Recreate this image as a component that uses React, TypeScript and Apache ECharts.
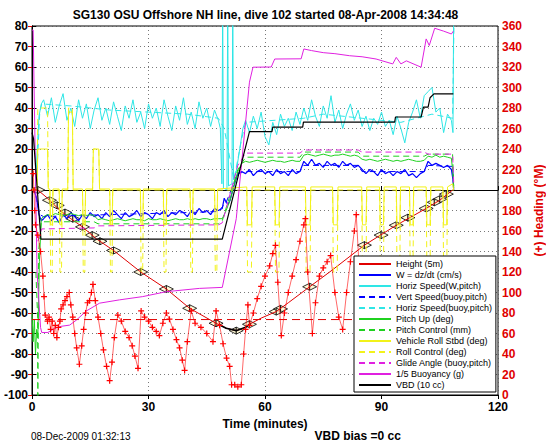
import React, { useEffect, useRef } from "react";
import * as echarts from "echarts";

const FONT = '"Liberation Sans", Arial, Helvetica, sans-serif';
const TITLE = "SG130 OSU Offshore NH line, dive 102 started 08-Apr-2008 14:34:48";
const X_NAME = "Time (minutes)";
const Y2_NAME = "(+) Heading (°M)";
const STAMP = "08-Dec-2009 01:32:13";
const VBD_NOTE = "VBD bias =0 cc";

const NAMES = [
  "Height (5m)",
  "W = dz/dt (cm/s)",
  "Horiz Speed(W,pitch)",
  "Vert Speed(buoy,pitch)",
  "Horiz Speed(buoy,pitch)",
  "Pitch Up (deg)",
  "Pitch Control (mm)",
  "Vehicle Roll Stbd (deg)",
  "Roll Control (deg)",
  "Glide Angle (buoy,pitch)",
  "1/5 Buoyancy (g)",
  "VBD (10 cc)",
];

// shared time grids (minutes)
const DESC_T = [3,4,5,6,7,8,9,10,11,12,13,14,15,16,17,18,19,20,21,22,23,24,25,26,27,28,29,30,31,32,33,34,35,36,37,38,39,40,41,42,43,44,45,46,47,48];
const ASC_T = [55,56,57,58,59,60,61,62,63,64,65,66,67,68,69,70,71,72,73,74,75,76,77,78,79,80,81,82,83,84,85,86,87,88,89,90,91,92,93,94,95,96,97,98,99,100,101,102,103,104,105,106,107,108];

// Height (5m)
const HEIGHT_T = [0.5, 1.5, 4, 7.1, 10, 13, 16.5, 21, 28, 34.6, 40.6, 47.4, 50, 52.6, 55, 56, 59, 62.9, 66, 71.5, 77, 85.6, 93.8, 101.5, 105, 108.3];
const HEIGHT_V = [0.5, 0, -4, -9.8, -14, -18, -23.7, -29.5, -40, -48.3, -57.7, -65, -67.4, -68.6, -67, -65.5, -62.5, -59.3, -55, -47.2, -39.5, -26.9, -17.2, -9, -5, 0];
// markers on the height trace
const MARK_T = [1.5, 4.5, 6.5, 8.5, 10.5, 13, 15.5, 17.5, 21, 28, 34.6, 40.6, 47.4, 52.6, 56, 62.9, 64, 71.5, 85.6, 89.9, 93.8, 96.8, 101.5, 103.6, 105, 106.7];
const MARK_V = [0, -5, -7.5, -11, -14, -18, -22, -25, -29.5, -40, -48.3, -57.7, -65, -68.6, -65.5, -59.3, -58, -47.2, -26.9, -22, -17.2, -13.5, -9, -6, -4.5, -2];
// apogee segment
const APOGEE_T = [48.5, 50, 52.6, 55, 56.3];
const APOGEE_V = [-66, -67.4, -68.6, -67, -65.2];
// target depth line
const TARGET_T = [0, 120];
const TARGET_V = [-63.2, -63.2];

// W = dz/dt
const W_EARLY_T = [0.5, 1.2, 1.8, 2.4];
const W_EARLY_V = [0, -4, -12, -15];
const W_DESC = [-14,-12,-15,-13,-16,-12,-14,-11,-13,-15,-12,-14,-11,-13,-12,-14,-11,-13,-10,-12,-14,-11,-13,-12,-10,-13,-11,-12,-14,-11,-12,-10,-13,-11,-12,-10,-11,-13,-10,-12,-9,-11,-10,-12,-9,-10];
const W_MID_T = [49, 49.5, 50, 50.5, 51, 52, 53, 54];
const W_MID_V = [-9, -4, -6, -7, -5, 2, 8, 9];
const W_ASC = [8,10,7,9,10,8,9,7,10,8,9,7,10,8,9,14,12,15,12,13,11,14,12,13,11,14,12,13,11,12,10,8,10,9,7,10,8,9,7,9,8,10,7,8,6,8,9,14,12,13,12,11,12,10];
const W_END_T = [108.4, 108.6];
const W_END_V = [5, 0];

// Horiz speed (W, pitch)
const HS_EARLY_T = [0.9, 1.3, 1.8, 2.4];
const HS_EARLY_V = [2, 18, 36, 42];
const HS_DESC = [44,36,45,33,41,47,34,40,31,44,35,42,30,39,45,34,40,32,43,36,29,41,35,44,33,38,30,42,35,40,31,44,36,29,41,34,45,32,38,30,43,35,40,31,39,34];
const HS_MID_T = [48.5, 48.9, 49.1, 49.3, 50.2, 50.4, 50.6, 51.5, 51.7, 51.9, 52.6, 53.5, 54.3];
const HS_MID_V = [30, 3, 95, 1, 0, 95, 2, 3, 95, 5, 9, 20, 30];
const HS_ASC = [34,28,36,30,38,26,22,33,27,37,31,35,29,38,32,40,34,44,36,31,41,35,46,33,39,30,37,42,34,39,31,36,29,35,32,38,31,34,27,36,30,23,33,38,44,35,46,48,50,38,40,28,37,34];
const HS_END_T = [108.4, 108.6];
const HS_END_V = [28, 95];

// Vert speed (buoy, pitch)
const VSB_T = [1, 2, 3, 10, 20, 30, 40, 48, 50, 53, 55, 69, 70, 84, 85, 101, 102, 108.3, 108.6];
const VSB_V = [-3, -12, -13, -12.5, -12, -11.5, -11, -10.5, -6, 8, 9, 9, 12, 12, 9, 9, 12, 11.5, 0];

// Horiz speed (buoy, pitch)
const HSB_T = [1.2, 2, 2.5, 10, 20, 30, 40, 48, 49.5, 52, 54, 55, 70, 75, 85, 95, 103, 108.3, 108.7];
const HSB_V = [5, 38, 42, 41, 39, 38, 37, 35, 30, 5, 25, 33, 35, 37, 35, 33, 37, 35, 85];

// Pitch up
const PU_EARLY_T = [0, 0.3, 0.6, 0.9, 1.2, 1.5, 1.9, 2.4];
const PU_EARLY_V = [-60, -74, -63, -80, -68, -72, -35, -14];
const PU_DESC = [-13,-12,-12.5,-11.5,-12,-12.5,-12,-11.5,-12,-12.5,-12,-12.5,-12,-12.5,-14.5,-14,-14.5,-15,-14.5,-14,-14.5,-15,-14.5,-14,-14.5,-14.5,-15,-14,-14.5,-14.5,-14,-14.5,-15,-14.5,-14,-14.5,-14.5,-14,-14.5,-14,-14.5,-14,-14,-14.5,-14,-14];
const PU_MID_T = [49, 50, 51, 52, 53, 54];
const PU_MID_V = [-14, -10, -5, 2, 9, 13];
const PU_ASC = [14,13.5,14,14.5,14,13.5,14,14.5,14,14,13.5,14,14.5,14,14,17,17.5,17,16.5,17,17.5,17,16.5,17,17,17.5,17,16.5,17,16.5,15,14.5,15,14.5,14,14.5,15,14.5,14,14.5,14,14.5,15,14.5,14,14,14.5,16.5,16,17,16,16.5,16,15.5];
const PU_END_T = [108.4, 108.6];
const PU_END_V = [8, 1];

// Pitch control
const PC_T = [1.0, 1.45, 1.5, 1.65, 1.7, 2.4, 16, 17, 48, 49, 53, 55, 69, 70, 84, 85, 101, 102, 108.3, 108.6];
const PC_V = [-40, -62, -110, -110, -30, -15.5, -15.5, -16.5, -16.5, -15, 10, 16, 16, 18.5, 18.5, 16.5, 16.5, 17.5, 17.5, 2];

// Roll (vehicle roll solid, roll control dashed)
const ROLL_T = [
  0, 1.3, 1.5, 4.0, 4.2,
  4.6, 4.8, 5.2, 5.4,
  7.0, 7.2, 7.6, 7.8,
  9.2, 9.4, 10.4, 10.6,
  13.0, 13.2, 13.6, 13.8,
  15.6, 15.8, 17.2, 17.4,
  20.0, 20.2, 20.6, 20.8,
  27.9, 28.1, 28.5, 28.7,
  33.8, 34.0, 34.5, 34.7,
  40.7, 40.9, 41.3, 41.5,
  47.0, 47.2, 47.6, 47.8,
  55.3, 55.5, 56.5, 56.7,
  62.5, 62.7, 63.6, 63.8,
  70.4, 70.6, 71.6, 71.8,
  77.4, 77.6, 78.6, 78.8,
  84.9, 85.1, 86.0, 86.2,
  89.5, 89.7, 90.5, 90.7,
  93.8, 94.0, 94.7, 94.9,
  97.2, 97.4, 98.1, 98.3,
  101.5, 101.7, 102.5, 102.7,
  105.8, 106.0, 106.8, 107.0,
  108.3, 108.6,
];
const VROLL_V = [
  0.5, 0.5, 20, 20, 0.5,
  0.5, -17, -17, 0.5,
  0.5, -17, -17, 0.5,
  0.5, 38, 38, 0.5,
  0.5, -17, -17, 0.5,
  0.5, 20, 20, 0.5,
  0.5, -17, -17, 0.5,
  0.5, -17, -17, 0.5,
  0.5, -17, -17, 0.5,
  0.5, -17, -17, 0.5,
  0.5, -17, -17, 0.5,
  1.5, -17, -17, 1.5,
  1.5, -17, -17, 1.5,
  1.5, -17, -17, 1.5,
  1.5, -17, -17, 1.5,
  1.5, -17, -17, 1.5,
  1.5, -17, -17, 1.5,
  1.5, -17, -17, 1.5,
  1.5, -17, -17, 1.5,
  1.5, -17, -17, 1.5,
  1.5, -17, -17, 1.5,
  3, 0,
];
const RCTRL_V = [
  0, 0, 40, 40, 0,
  0, -40, -40, 0,
  0, -40, -40, 0,
  0, 40, 40, 0,
  0, -40, -40, 0,
  0, 20, 20, 0,
  0, -40, -40, 0,
  0, -40, -40, 0,
  0, -40, -40, 0,
  0, -40, -40, 0,
  0, -40, -40, 0,
  0, -40, -40, 0,
  0, -40, -40, 0,
  0, -40, -40, 0,
  0, -40, -40, 0,
  0, -40, -40, 0,
  0, -40, -40, 0,
  0, -40, -40, 0,
  0, -40, -40, 0,
  0, -40, -40, 0,
  0, -40, -40, 0,
  0, 0,
];

// Glide angle
const GA_T = [1.5, 2.5, 16, 17, 48, 49, 53, 55, 69, 70, 84, 85, 101, 102, 108.3, 108.6];
const GA_V = [-25, -19, -18.5, -17.5, -17, -16, 12, 18, 18, 19.5, 19.5, 18.5, 18.5, 17.5, 17.5, 3];

// 1/5 Buoyancy
const BUOY_T = [0, 0.3, 0.8, 1.3, 2.2, 2.5, 4.1, 5.8, 7.5, 9.7, 11.4, 14, 17.4, 22.5, 28.5, 34.6, 43.1, 49, 52.6, 56, 56.9, 61.6, 62.5, 69.3, 70, 72, 75, 78, 81.8, 85, 88.6, 92.9, 93.8, 95, 96.4, 100.2, 101.5, 102.3, 103.7, 106, 108, 108.5];
const BUOY_V = [78, 78, 20, -40, -67, -69.5, -69.5, -67.5, -66.5, -65.9, -63.5, -59, -55.2, -53.6, -52, -49.6, -48, -47.5, -14, 52.6, 59.9, 60, 63.9, 64, 68.8, 68, 67, 66.5, 65.5, 65, 63.9, 61.5, 64.7, 61.5, 63, 59.9, 73.7, 70.5, 78.9, 77.5, 76.1, 77.5];

// VBD (10 cc)
const VBD_T = [0, 0.4, 2.3, 49, 56, 61.8, 62, 69.7, 69.9, 93.4, 93.6, 100.2, 100.8, 102, 102.5, 103.5, 108.5];
const VBD_V = [28, 25, -24, -24, 28.5, 28.5, 30.7, 30.7, 33.1, 33.1, 35.6, 35.6, 40.4, 40.4, 45, 46.9, 46.9];

// Heading (deg magnetic) on the right axis
const HEADING_T = [0.3,0.5,0.7,0.9,1.5,2.2,2.8,3.1,3.4, 4.0,4.4,4.8,5.2,5.6,6.0,6.4,6.8,7.2, 7.5,8.0,8.5,9.0,9.6, 10.0,10.5,11.0,11.5,12.2, 12.8,13.3,13.8,14.3,14.8,15.3,15.7, 16.3,17.0,17.7,18.4,19.2,20.0, 20.6,21.2,22.1, 23,24,25,25.8,26.5,27.3, 28.1,29,30,31,32,32.8, 33.7,34.6, 35.4,36.3,37.2,38,38.7,39.3, 40,41, 42,43.5,45,46.6, 47.4,48.3,49.2,50.1,50.9,51.4,52.2,53,53.9, 54.5,55,55.6,56,57,58,59,60,61.2,62,62.7, 63.3,64.2, 65,66,67,68,69,70,70.4, 71,72.2, 73,74,75,76,76.9, 78,79,80, 81,82,83,83.5, 84.3,85, 87,90,94,98,102,106,108];
const HEADING_DEG = [216,200,180,166,156,140,116,96,78, 72,76,64,72,60,68,56,66,72, 84,88,92,96,100, 88,76,60,46,30, 48,64,80,90,92,100,108, 92,76,60,44,28,14, 32,56,78, 72,62,56,48,38,26, 82,76,72,66,62,58, 70,80, 74,64,54,46,34,24, 52,82, 70,66,60,52, 82,68,50,36,28,10,10,8,10, 40,64,88,68,80,94,106,116,126,138,146, 110,58, 80,100,116,132,150,166,172, 120,60, 90,116,124,130,136, 100,76,64, 100,130,160,176, 120,80, 60,50,70,56,80,90,100];

const pairs = (ts: number[], vs: number[]) => {
  const n = Math.min(ts.length, vs.length);
  const out: number[][] = [];
  for (let i = 0; i < n; i++) out.push([ts[i], vs[i]]);
  return out;
};

const RED = "#e00000";
const BLUE = "#0000ff";
const CYAN = "#2ee6e6";
const GREEN = "#1fd11f";
const YELLOW = "#f2f21a";
const MAGENTA = "#e020e0";
const DASH = [6, 4];

function lineSeries(name: string | undefined, data: number[][], color: string, dashed = false, width = 1, extra: any = {}) {
  return {
    type: "line",
    name,
    data,
    symbol: "none",
    showSymbol: false,
    color,
    lineStyle: { color, width, type: dashed ? DASH : "solid" },
    emphasis: { disabled: true },
    silent: true,
    clip: true,
    ...extra,
  };
}

export default function App() {
  const ref = useRef<HTMLDivElement>(null);
  useEffect(() => {
    if (!ref.current) return;
    const chart = echarts.init(ref.current, undefined, { renderer: "svg" });
    const axisText = { fontFamily: FONT, fontSize: 12, fontWeight: "bold" as const, color: "#000" };
    const dotted = { type: [1, 3], color: "#555", width: 0.8 };
    const option: any = {
      animation: false,
      backgroundColor: "#fff",
      grid: { left: 32, right: 48, top: 26, bottom: 47, show: true, borderColor: "#000", borderWidth: 1, outerBoundsMode: "none" },
      xAxis: [
        {
          type: "value", min: 0, max: 120, interval: 30, position: "bottom",
          name: X_NAME, nameLocation: "middle", nameGap: 21,
          nameTextStyle: { ...axisText },
          axisLabel: { ...axisText, margin: 6 },
          axisLine: { show: true, lineStyle: { color: "#000" } },
          axisTick: { show: true, inside: true, length: 4, lineStyle: { color: "#000" } },
          splitLine: { show: true, lineStyle: dotted },
        },
        {
          type: "value", min: 0, max: 120, interval: 30, position: "top",
          axisLabel: { show: false },
          axisLine: { show: true, lineStyle: { color: "#000" } },
          axisTick: { show: true, inside: true, length: 4, lineStyle: { color: "#000" } },
          splitLine: { show: false },
        },
      ],
      yAxis: [
        {
          type: "value", min: -100, max: 80, interval: 10, position: "left",
          axisLabel: { ...axisText, margin: 4 },
          axisLine: { show: true, lineStyle: { color: "#000" } },
          axisTick: { show: true, inside: true, length: 4, lineStyle: { color: "#000" } },
          splitLine: { show: true, lineStyle: dotted },
        },
        {
          type: "value", min: 0, max: 360, interval: 20, position: "right",
          name: Y2_NAME, nameLocation: "middle", nameGap: 33,
          nameTextStyle: { ...axisText, color: RED },
          axisLabel: { ...axisText, color: RED, margin: 4 },
          axisLine: { show: true, lineStyle: { color: "#000" } },
          axisTick: { show: true, inside: true, length: 4, lineStyle: { color: RED } },
          splitLine: { show: false },
        },
      ],
      legend: {
        data: NAMES,
        orient: "vertical",
        left: 354, top: 256,
        itemWidth: 32, itemHeight: 9, itemGap: 2,
        padding: [3.5, 4, 2.5, 4],
        backgroundColor: "#fff", borderColor: "#000", borderWidth: 1, borderRadius: 0,
        selectedMode: false,
        itemStyle: { opacity: 0, borderWidth: 0 },
        textStyle: { fontFamily: FONT, fontSize: 9, color: "#000", lineHeight: 9 },
      },
      graphic: [
        { type: "text", x: 265.5, y: 14.6, style: { text: TITLE, fontFamily: FONT, fontSize: 12, fontWeight: "bold", fill: "#000", align: "center", verticalAlign: "middle" } },
        { type: "text", x: 31, y: 436, style: { text: STAMP, fontFamily: FONT, fontSize: 10, fill: "#000", align: "left", verticalAlign: "middle" } },
        { type: "text", x: 357.7, y: 435.5, style: { text: VBD_NOTE, fontFamily: FONT, fontSize: 12, fontWeight: "bold", fill: "#000", align: "center", verticalAlign: "middle" } },
      ],
      series: [
        lineSeries(NAMES[0], pairs(HEIGHT_T, HEIGHT_V), RED, false, 1),
        lineSeries(NAMES[1], pairs([...W_EARLY_T, ...DESC_T, ...W_MID_T, ...ASC_T, ...W_END_T], [...W_EARLY_V, ...W_DESC, ...W_MID_V, ...W_ASC, ...W_END_V]), BLUE, false, 1.2),
        lineSeries(NAMES[2], pairs([...HS_EARLY_T, ...DESC_T, ...HS_MID_T, ...ASC_T, ...HS_END_T], [...HS_EARLY_V, ...HS_DESC, ...HS_MID_V, ...HS_ASC, ...HS_END_V]), CYAN, false, 1),
        lineSeries(NAMES[3], pairs(VSB_T, VSB_V), BLUE, true, 1),
        lineSeries(NAMES[4], pairs(HSB_T, HSB_V), CYAN, true, 1),
        lineSeries(NAMES[5], pairs([...PU_EARLY_T, ...DESC_T, ...PU_MID_T, ...ASC_T, ...PU_END_T], [...PU_EARLY_V, ...PU_DESC, ...PU_MID_V, ...PU_ASC, ...PU_END_V]), GREEN, false, 1),
        lineSeries(NAMES[6], pairs(PC_T, PC_V), GREEN, true, 1),
        lineSeries(NAMES[7], pairs(ROLL_T, VROLL_V), YELLOW, false, 1),
        lineSeries(NAMES[8], pairs(ROLL_T, RCTRL_V), YELLOW, true, 1),
        lineSeries(NAMES[9], pairs(GA_T, GA_V), MAGENTA, true, 1),
        lineSeries(NAMES[10], pairs(BUOY_T, BUOY_V), MAGENTA, false, 1),
        lineSeries(NAMES[11], pairs(VBD_T, VBD_V), "#000", false, 1.2),
        lineSeries(undefined, pairs(TARGET_T, TARGET_V), RED, false, 1, { lineStyle: { color: RED, width: 1, type: [8, 5] } }),
        lineSeries(undefined, pairs(APOGEE_T, APOGEE_V), "#000", false, 1.6),
        {
          type: "line",
          yAxisIndex: 1,
          data: pairs(HEADING_T, HEADING_DEG),
          symbol: "path://M4,0H6V4H10V6H6V10H4V6H0V4H4Z",
          symbolSize: 6,
          showSymbol: true,
          showAllSymbol: true,
          itemStyle: { color: "#ff0000" },
          lineStyle: { color: "#ff0000", width: 0.6 },
          silent: true,
        },
        {
          type: "scatter",
          data: pairs(MARK_T, MARK_V),
          symbol: "triangle",
          symbolRotate: 90,
          symbolSize: 7,
          symbolOffset: [-3.5, 0],
          itemStyle: { color: "#fff6cc", borderColor: "#000", borderWidth: 1 },
          silent: true,
        },
        {
          type: "scatter",
          data: pairs(MARK_T, MARK_V),
          symbol: "triangle",
          symbolRotate: -90,
          symbolSize: 7,
          symbolOffset: [3.5, 0],
          itemStyle: { color: "#fff6cc", borderColor: "#000", borderWidth: 1 },
          silent: true,
        },
      ],
    };
    chart.setOption(option);
    return () => chart.dispose();
  }, []);
  return (
    <div
      ref={ref}
      style={{ position: "fixed", left: 0, top: 0, width: 546, height: 442, background: "#fff" }}
    />
  );
}
